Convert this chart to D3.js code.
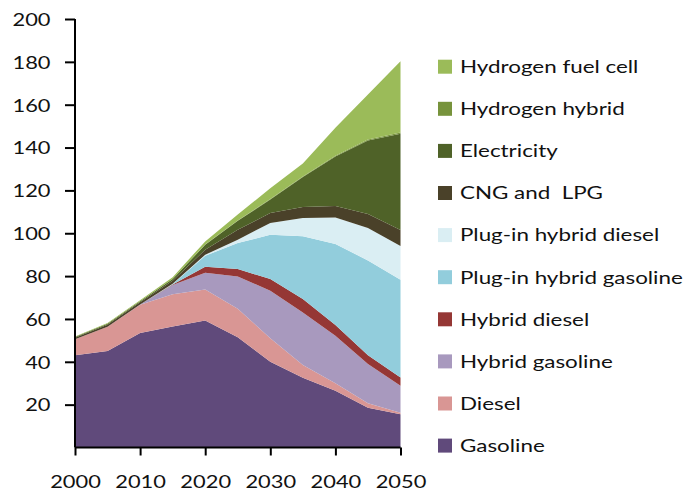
<!DOCTYPE html>
<html><head><meta charset="utf-8">
<script src="https://cdn.jsdelivr.net/npm/d3@7"></script>
<style>
body{margin:0;background:#fff;}
svg{display:block;}
text{font-family:Lato,"Open Sans",sans-serif;fill:#111;}
</style></head>
<body>
<svg id="chart" width="687" height="492"></svg>
<script>
const years = [2000, 2005, 2010, 2015, 2020, 2025, 2030, 2035, 2040, 2045, 2050];
const gasoline        = [43, 45, 53.5, 56.5, 59.3, 51.5, 40, 32.5, 26.5, 18.5, 15.5];
const diesel          = [7.5, 11.4, 13.1, 15, 14.5, 13.3, 11, 6, 3.5, 2.2, 0.7];
const hybridGasoline  = [0, 0, 0.2, 4.4, 7.8, 15, 22.2, 24.5, 22.2, 18.3, 12.6];
const hybridDiesel    = [0, 0, 0, 0.2, 2.8, 3.5, 5.4, 6.3, 5, 4, 3.9];
const plugGasoline    = [0, 0, 0, 0.2, 5.1, 12.1, 20.7, 29.3, 37.8, 44.3, 45.6];
const plugDiesel      = [0, 0, 0, 0.1, 0.5, 1.6, 5.5, 8.5, 12.4, 15.1, 15.7];
const cngLpg          = [0.7, 0.9, 1.0, 1.4, 2.3, 4.6, 4.6, 5.1, 5.3, 6.6, 7.5];
const electricity     = [0.4, 0.5, 0.5, 0.8, 2.3, 4.2, 6.3, 14, 23.1, 34.3, 44.9];
const hydrogenHybrid  = [0, 0, 0, 0, 0.1, 0.2, 0.3, 0.3, 0.4, 0.5, 0.6];
const hydrogenFuelCell= [0.2, 0.3, 0.4, 0.9, 1.5, 2.7, 5, 6, 13, 21, 33.3];

const seriesNames = ["Gasoline","Diesel","Hybrid gasoline","Hybrid diesel","Plug-in hybrid gasoline","Plug-in hybrid diesel","CNG and  LPG","Electricity","Hydrogen hybrid","Hydrogen fuel cell"];
const seriesValues = [gasoline, diesel, hybridGasoline, hybridDiesel, plugGasoline, plugDiesel, cngLpg, electricity, hydrogenHybrid, hydrogenFuelCell];
const seriesColors = ["#604a7b","#d99694","#a899be","#953735","#92cddc","#daeef3","#4a4129","#4f6228","#77933c","#9bbb59"];
const yTicks = [20, 40, 60, 80, 100, 120, 140, 160, 180, 200];
const xTicks = [2000, 2010, 2020, 2030, 2040, 2050];

const rows = years.map((yr, i) => {
  const r = {year: yr};
  seriesNames.forEach((n, k) => r[n] = seriesValues[k][i]);
  return r;
});

const svg = d3.select("#chart");
const x = d3.scaleLinear().domain([2000, 2050]).range([75, 400.5]);
const y = d3.scaleLinear().domain([0, 200]).range([447.5, 19]);
const SXA = 1.25;
const SXL = 1.28;

const stack = d3.stack().keys(seriesNames);
const layers = stack(rows);
const area = d3.area()
  .x(d => x(d.data.year))
  .y0(d => y(d[0]))
  .y1(d => y(d[1]));

svg.append("g").selectAll("path").data(layers).join("path")
  .attr("d", area)
  .attr("fill", (d, i) => seriesColors[i]);

// y axis
const yAxis = svg.append("g").attr("transform", `translate(${x(2000)},0)`)
  .call(d3.axisLeft(y).tickValues(yTicks).tickSize(10).tickSizeOuter(0).tickFormat(d3.format("d")));
yAxis.select(".domain").attr("stroke", "#000").attr("stroke-width", 2)
  .attr("d", `M0,${y(200)}V${y(0)}`);
yAxis.selectAll(".tick line").attr("stroke", "#000").attr("stroke-width", 2);
yAxis.selectAll(".tick text")
  .attr("x", -24.5 / SXA).attr("dy", "0.36em")
  .attr("transform", `scale(${SXA},1)`)
  .style("font-size", "17.5px").style("font-family", "Lato, sans-serif").attr("fill", "#111");

// x axis
const xAxis = svg.append("g").attr("transform", `translate(0,${y(0)})`)
  .call(d3.axisBottom(x).tickValues(xTicks).tickSize(8).tickSizeOuter(0).tickFormat(d3.format("d")));
xAxis.select(".domain").attr("stroke", "#000").attr("stroke-width", 2)
  .attr("d", `M${x(2000)},0H${x(2050)}`);
xAxis.selectAll(".tick line").attr("stroke", "#000").attr("stroke-width", 2);
xAxis.selectAll(".tick text")
  .attr("y", 0).attr("dy", 0)
  .attr("transform", `translate(0,40) scale(${SXA},1)`)
  .style("font-size", "17.5px").style("font-family", "Lato, sans-serif").attr("fill", "#111");

// legend
const legendNames = seriesNames.slice().reverse();
const legendColors = seriesColors.slice().reverse();
const lg = svg.append("g");
const item = lg.selectAll("g").data(legendNames).join("g")
  .attr("transform", (d, i) => `translate(438,${66.7 + i * 42.1})`);
item.append("rect").attr("x", 0).attr("y", -7).attr("width", 14).attr("height", 14)
  .attr("fill", (d, i) => legendColors[i]);
item.append("text")
  .attr("transform", `translate(22,0) scale(${SXL},1)`)
  .attr("dy", "0.36em")
  .style("font-size", "17.5px")
  .style("white-space", "pre")
  .text(d => d);
</script>
</body></html>
